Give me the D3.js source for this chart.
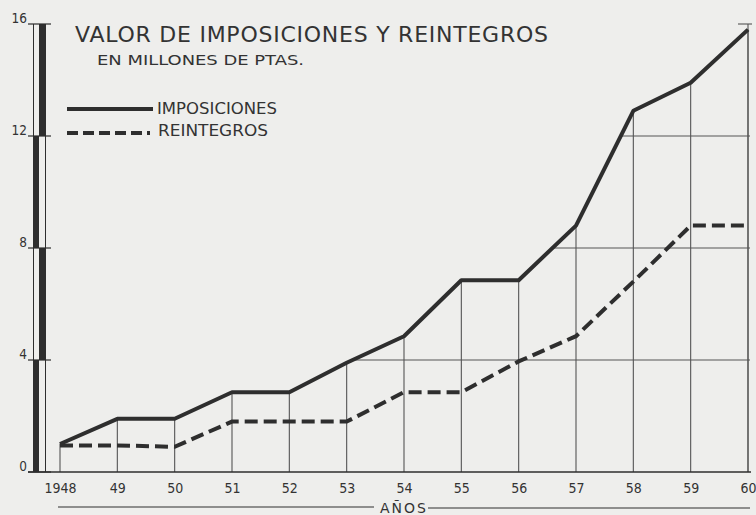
<!DOCTYPE html>
<html>
<head>
<meta charset="utf-8">
<script src="https://cdn.jsdelivr.net/npm/d3@7"></script>
<style>
  body { margin: 0; background: #eeeeec; }
  svg { display: block; }
  text { font-family: "DejaVu Sans", sans-serif; fill: #333; }
</style>
</head>
<body>
<svg id="chart" width="756" height="515"></svg>
<script>
// years (x axis) and the two series, in millions of pesetas
var years = [1948, 1949, 1950, 1951, 1952, 1953, 1954, 1955, 1956, 1957, 1958, 1959, 1960];
var imposiciones = [1.0, 1.9, 1.9, 2.85, 2.85, 3.9, 4.85, 6.85, 6.85, 8.8, 12.9, 13.9, 15.8];
var reintegros = [0.95, 0.95, 0.9, 1.8, 1.8, 1.8, 2.85, 2.85, 3.95, 4.85, 6.8, 8.8, 8.8];
var yTicks = [0, 4, 8, 12, 16];
var gridLevels = [4, 8, 12];

var ink = "#2e2e2e";
var svg = d3.select("#chart");

var x = d3.scaleLinear().domain([1948, 1960]).range([60, 748]);
var y = d3.scaleLinear().domain([0, 16]).range([472, 24]);

// clip: the grid only shows under the imposiciones curve
var clipPts = [[x(1948) - 1, y(0)]]
  .concat(years.map(function (d, i) { return [x(d) + (i == 0 ? -1 : 0), y(imposiciones[i])]; }));
clipPts.push([x(1960) + 3, y(imposiciones[imposiciones.length - 1])]);
clipPts.push([x(1960) + 3, y(0)]);

svg.append("defs").append("clipPath")
  .attr("id", "under")
  .append("polygon")
  .attr("points", clipPts.map(function (p) { return p.join(","); }).join(" "));

var grid = svg.append("g").attr("clip-path", "url(#under)")
  .attr("stroke", "#555").attr("stroke-width", 1.1);

grid.selectAll(".v").data(years).enter()
  .append("line")
  .attr("x1", function (d) { return x(d); })
  .attr("x2", function (d) { return x(d); })
  .attr("y1", y(16))
  .attr("y2", y(0));

grid.selectAll(".h").data(gridLevels).enter()
  .append("line")
  .attr("x1", x(1948))
  .attr("x2", x(1960) + 2)
  .attr("y1", function (d) { return y(d); })
  .attr("y2", function (d) { return y(d); });

// last year line goes all the way up, with a stub at 16
svg.append("line")
  .attr("x1", x(1960)).attr("x2", x(1960))
  .attr("y1", y(16)).attr("y2", y(0))
  .attr("stroke", "#555").attr("stroke-width", 1.1);
svg.append("line")
  .attr("x1", x(1960) - 10).attr("x2", x(1960) + 4)
  .attr("y1", y(16)).attr("y2", y(16))
  .attr("stroke", "#555").attr("stroke-width", 1.1);

// baseline
svg.append("line")
  .attr("x1", 28).attr("x2", x(1960) + 3)
  .attr("y1", y(0)).attr("y2", y(0))
  .attr("stroke", ink).attr("stroke-width", 1.6);

// y axis column: two thin rails, halves filled alternately
svg.append("line").attr("x1", 33.5).attr("x2", 33.5).attr("y1", y(16)).attr("y2", y(0))
  .attr("stroke", ink).attr("stroke-width", 1);
svg.append("line").attr("x1", 45.5).attr("x2", 45.5).attr("y1", y(16)).attr("y2", y(0))
  .attr("stroke", ink).attr("stroke-width", 1);

svg.selectAll(".seg").data(d3.pairs(yTicks)).enter()
  .append("rect")
  .attr("x", function (d, i) { return i % 2 == 0 ? 33 : 39; })
  .attr("width", function (d, i) { return i % 2 == 0 ? 6 : 7; })
  .attr("y", function (d) { return y(d[1]); })
  .attr("height", function (d) { return y(d[0]) - y(d[1]); })
  .attr("fill", ink);

svg.selectAll(".tk").data(yTicks).enter()
  .append("line")
  .attr("x1", 28).attr("x2", 51)
  .attr("y1", function (d) { return y(d); })
  .attr("y2", function (d) { return y(d); })
  .attr("stroke", ink).attr("stroke-width", 1.2);

// axes (labels only)
var yAxis = svg.append("g")
  .attr("transform", "translate(28,0)")
  .call(d3.axisLeft(y).tickValues(yTicks).tickSize(0).tickPadding(1));
yAxis.select(".domain").remove();
yAxis.selectAll("text")
  .attr("dy", "-0.1em")
  .style("font-size", "13.5px")
  .style("font-stretch", "condensed")
  .attr("fill", "#333");

var xAxis = svg.append("g")
  .attr("transform", "translate(0," + y(0) + ")")
  .call(d3.axisBottom(x).tickValues(years).tickSize(0)
    .tickFormat(function (d) { return d == 1948 ? "1948" : String(d).slice(2); }));
xAxis.select(".domain").remove();
xAxis.selectAll("text")
  .attr("y", 21).attr("dy", 0)
  .style("font-size", "14px")
  .style("font-stretch", "condensed")
  .attr("fill", "#333");

// series
var line = d3.line()
  .x(function (d, i) { return x(years[i]); })
  .y(function (d) { return y(d); });

svg.append("path")
  .datum(reintegros)
  .attr("d", line)
  .attr("fill", "none")
  .attr("stroke", ink)
  .attr("stroke-width", 4)
  .attr("stroke-dasharray", "13,6");

svg.append("path")
  .datum(imposiciones)
  .attr("d", line)
  .attr("fill", "none")
  .attr("stroke", ink)
  .attr("stroke-width", 4)
  .attr("stroke-linejoin", "round");

// title
svg.append("text")
  .attr("x", 75).attr("y", 42)
  .attr("textLength", 473)
  .style("font-size", "22px")
  .text("VALOR DE IMPOSICIONES Y REINTEGROS");

svg.append("text")
  .attr("x", 97).attr("y", 65)
  .attr("textLength", 207)
  .attr("lengthAdjust", "spacingAndGlyphs")
  .style("font-size", "14px")
  .text("EN MILLONES DE PTAS.");

// legend
svg.append("line")
  .attr("x1", 67).attr("x2", 153).attr("y1", 109).attr("y2", 109)
  .attr("stroke", ink).attr("stroke-width", 4);
svg.append("text")
  .attr("x", 157).attr("y", 114)
  .attr("textLength", 120)
  .attr("lengthAdjust", "spacingAndGlyphs")
  .style("font-size", "15.5px")
  .text("IMPOSICIONES");

svg.append("line")
  .attr("x1", 67).attr("x2", 155).attr("y1", 133).attr("y2", 133)
  .attr("stroke", ink).attr("stroke-width", 4)
  .attr("stroke-dasharray", "11,5,11,5,11,5,11,5,11,5,3,20");
svg.append("text")
  .attr("x", 158).attr("y", 136)
  .attr("textLength", 110)
  .attr("lengthAdjust", "spacingAndGlyphs")
  .style("font-size", "15.5px")
  .text("REINTEGROS");

// AÑOS label with rules either side
svg.append("line")
  .attr("x1", 58).attr("x2", 374).attr("y1", 507).attr("y2", 507)
  .attr("stroke", ink).attr("stroke-width", 1.2);
svg.append("line")
  .attr("x1", 428).attr("x2", 750).attr("y1", 508).attr("y2", 508)
  .attr("stroke", ink).attr("stroke-width", 1.2);
svg.append("text")
  .attr("x", 380).attr("y", 513)
  .attr("textLength", 46)
  .style("font-size", "14px")
  .text("AÑOS");
</script>
</body>
</html>
